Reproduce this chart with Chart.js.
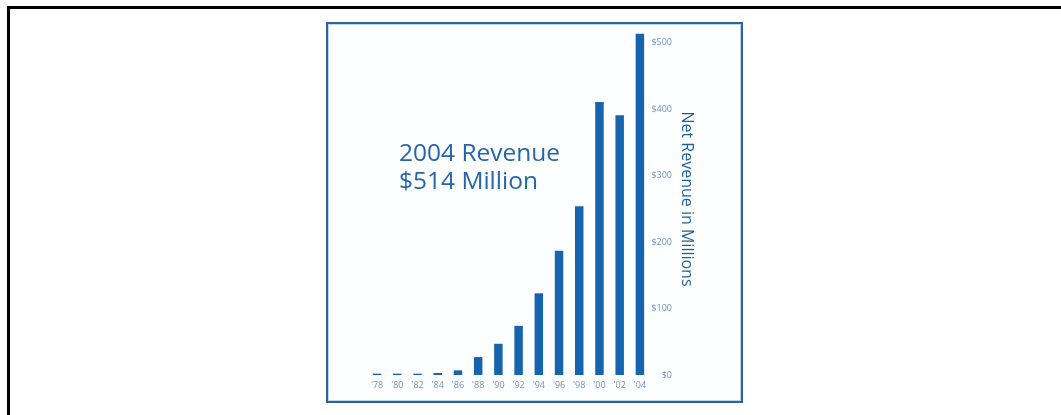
<!DOCTYPE html>
<html>
<head>
<meta charset="utf-8">
<script src="https://cdn.jsdelivr.net/npm/chart.js@4"></script>
<style>
  html, body { margin: 0; padding: 0; background: #ffffff; }
  body { width: 1061px; height: 415px; position: relative; overflow: hidden; }
  #frame { position: absolute; left: 7px; top: 6px; width: 1100px; height: 450px;
           border-left: 3px solid #000; border-top: 3px solid #000; }
  #box { position: absolute; left: 326px; top: 22px; width: 413px; height: 377px;
         border: 2px solid #2c6497; box-shadow: inset 0 0 0 1px #bcd6ec; background: #fdfeff; }
  #wrap { position: absolute; left: 0; top: 0; width: 1061px; height: 415px; }
  #note { position: absolute; left: 399px; top: 138px; font-family: "Open Sans", sans-serif;
          font-size: 24.5px; line-height: 28px; color: #2466a6; white-space: nowrap; }
</style>
</head>
<body>
<div id="frame"></div>
<div id="box"></div>
<div id="wrap"><canvas id="c" width="1061" height="415"></canvas></div>
<div id="note">2004 Revenue<br>$514 Million</div>
<script>
const years = ["'78", "'80", "'82", "'84", "'86", "'88", "'90", "'92", "'94", "'96", "'98", "'00", "'02", "'04"];
const revenue = [2, 2, 2, 3, 7, 27, 47, 74, 123, 187, 254, 411, 391, 514];
const yTicks = [0, 100, 200, 300, 400, 500];
const axisTitle = "Net Revenue in Millions";

const barColor = "#1664ad";
const tickColor = "#6f94bd";

new Chart(document.getElementById('c'), {
  type: 'bar',
  data: {
    labels: years,
    datasets: [{
      data: revenue,
      backgroundColor: barColor,
      borderWidth: 0,
      categoryPercentage: 1.0,
      barPercentage: 0.42
    }]
  },
  options: {
    responsive: false,
    animation: false,
    devicePixelRatio: 1,
    layout: { padding: { left: 367, right: 365, top: 23, bottom: 24 } },
    plugins: { legend: { display: false }, tooltip: { enabled: false }, title: { display: false } },
    scales: {
      x: {
        grid: { display: false },
        border: { display: false },
        ticks: { color: tickColor, font: { family: "Open Sans", size: 9 }, padding: -3, maxRotation: 0, autoSkip: false },
        afterFit: s => { s.height = 16; }
      },
      y: {
        position: 'right',
        min: 0,
        max: 530,
        grid: { display: false },
        border: { display: false },
        afterBuildTicks: s => { s.ticks = yTicks.map(v => ({ value: v })); },
        ticks: {
          color: tickColor,
          font: { family: "Open Sans", size: 9 },
          padding: 0,
          crossAlign: 'far',
          callback: v => '$' + v
        },
        afterFit: s => { s.width = 22; }
      },
      yTitle: {
        type: 'linear',
        position: 'right',
        display: true,
        min: 0,
        max: 530,
        grid: { display: false },
        border: { display: false },
        ticks: { display: false },
        title: {
          display: true,
          text: axisTitle,
          color: "#1d5e9e",
          font: { family: "Open Sans", size: 16 },
          padding: { top: 0, bottom: 0 }
        },
        afterFit: s => { s.width = 24; }
      }
    }
  }
});
</script>
</body>
</html>
